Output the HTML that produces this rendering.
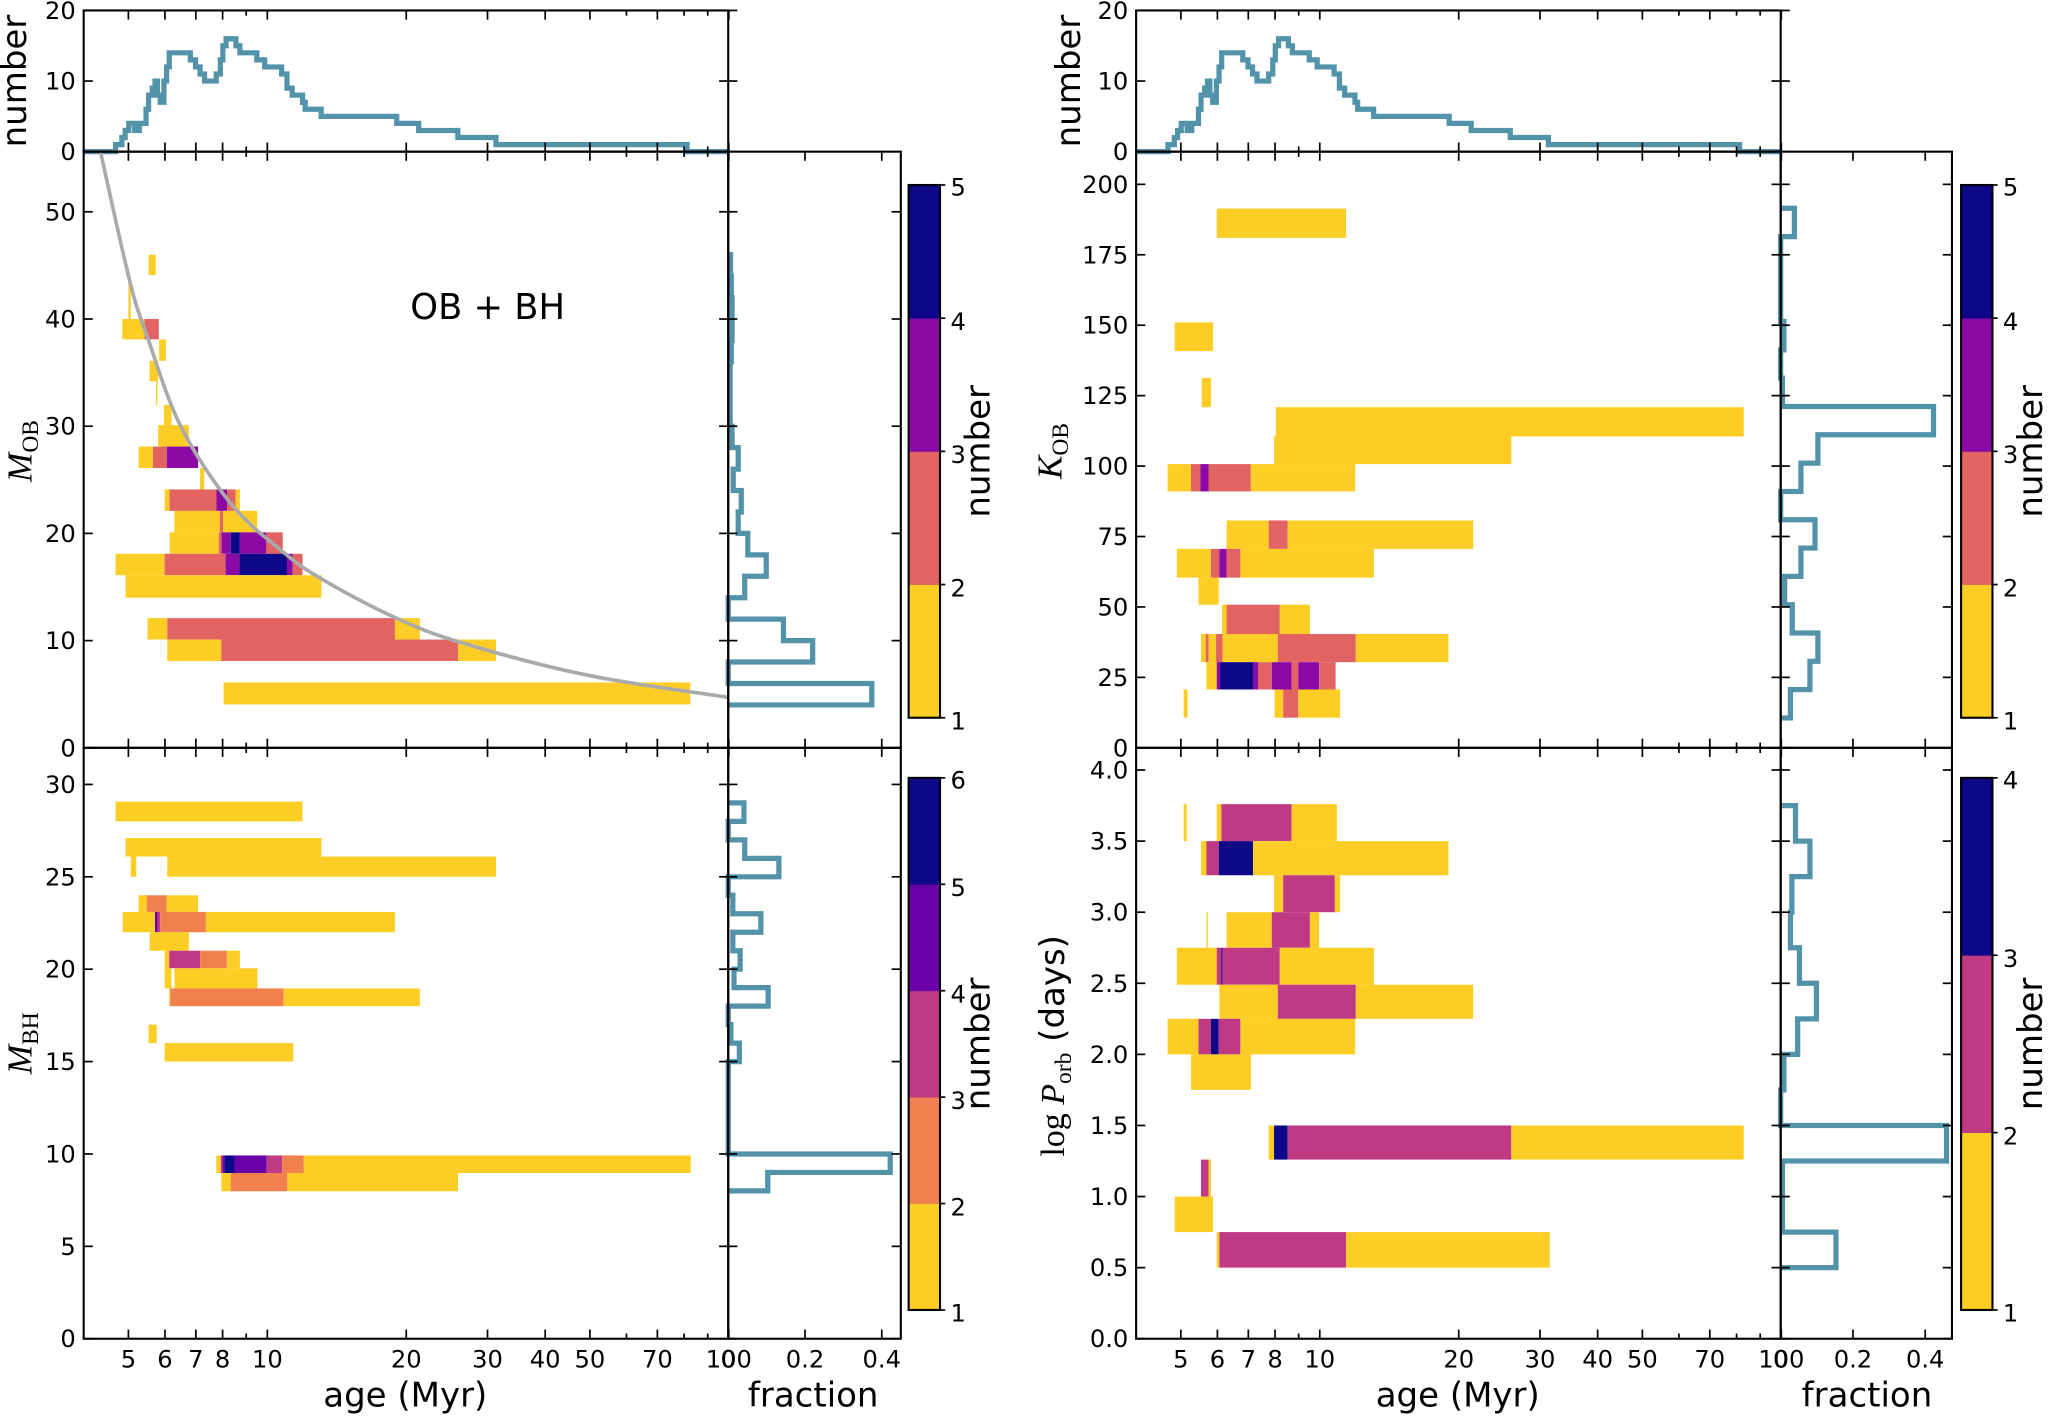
<!DOCTYPE html>
<html><head><meta charset="utf-8">
<style>
html,body{margin:0;padding:0;background:#fff;}
svg{display:block;}
text{font-family:"DejaVu Sans","Liberation Sans",sans-serif;fill:#000;}
.serif{font-family:"Liberation Serif","DejaVu Serif",serif;}
</style></head>
<body>
<svg id="chart" width="2050" height="1416" viewBox="0 0 1568 1083.1" preserveAspectRatio="none"></svg>
<script>
// ---------- DATA ----------
const ageHistEdges = [4,4.69,4.84,4.92,5.01,5.16,5.28,5.46,5.53,5.63,5.71,5.78,5.86,5.97,6.05,6.13,6.81,6.99,7.15,7.31,7.75,7.91,8.01,8.14,8.55,8.72,9.49,9.87,10.74,11.03,11.32,11.92,12.08,13.08,19.07,21.28,25.87,31.29,81.2,100];
const ageHistCounts = [0,1,2,3,4,3,4,6,8,9,10,8,7,10,12,14,13,12,11,10,11,13,15,16,15,14,13,12,11,9,8,7,6,5,4,3,2,1,0];
const ageTickLabels = [5,6,7,8,10,20,30,40,50,70,100];
const ageTickMinor = [9,60,80,90];

// M_OB panel cells: [ageStart, ageEnd, yLow, yHigh, count]
const obCells = [
[5.53,5.73,44.1,46,1],[5.0,5.06,40,44,1],
[4.85,5.42,38.1,40,1],[5.42,5.82,38.1,40,2],
[5.83,6.03,36.1,38.1,1],[5.56,5.80,34.2,36.1,1],[5.74,5.78,32,34.2,1],
[5.97,6.2,30.1,32,1],[5.80,6.76,28.1,30.1,1],
[5.26,5.65,26.1,28.1,1],[5.65,6.06,26.1,28.1,2],[6.06,7.08,26.1,28.1,3],
[7.15,7.3,24.1,26.1,1],
[5.99,6.14,22.1,24.1,1],[6.14,7.76,22.1,24.1,2],[7.76,8.18,22.1,24.1,3],[8.18,8.54,22.1,24.1,2],[8.54,8.72,22.1,24.1,1],
[6.29,7.89,20.1,22.1,1],[7.89,8.02,20.1,22.1,2],[8.02,9.51,20.1,22.1,1],
[6.14,7.85,18.1,20.1,1],[7.85,7.96,18.1,20.1,2],[7.96,8.33,18.1,20.1,3],[8.33,8.72,18.1,20.1,4],[8.72,9.95,18.1,20.1,3],[9.95,10.8,18.1,20.1,2],
[4.69,5.99,16.1,18.1,1],[5.99,8.12,16.1,18.1,2],[8.12,8.7,16.1,18.1,3],[8.7,11.03,16.1,18.1,4],[11.03,11.35,16.1,18.1,3],[11.35,11.92,16.1,18.1,2],
[4.93,13.1,14,16.1,1],
[5.5,6.07,10.1,12.1,1],[6.07,18.9,10.1,12.1,2],[18.9,21.4,10.1,12.1,1],
[6.07,7.95,8.1,10.1,1],[7.95,25.9,8.1,10.1,2],[25.9,31.3,8.1,10.1,1],
[8.04,82.5,4.05,6.1,1]
];
const obCurveAge = [4.35,5.03,5.49,6.49,8.33,10.69,13.05,18.8,26.6,49.7,100];
const obCurveMass = [55.6,43.6,38.4,30.0,22.8,18.45,15.8,12.2,9.75,6.75,4.7];
const obFracEdges = [4,6,8,10,12,14,16,18,20,22,24,26,28,30,32,34,36,38,40,42,44,46];
const obFrac = [0.374,0,0.22,0.144,0,0.043,0.099,0.051,0.026,0.034,0.013,0.026,0.01,0.005,0.005,0.005,0.008,0.01,0.01,0.008,0.006];
const obTicks = [0,10,20,30,40,50];

const bhCells = [
[4.69,11.92,28.0,29.07,1],[4.93,13.1,26.1,27.1,1],
[5.06,5.2,25.0,26.1,1],[6.07,31.3,25.0,26.1,1],
[5.26,5.48,23.1,24.0,1],[5.48,6.05,23.1,24.0,2],[6.05,7.08,23.1,24.0,1],
[4.86,5.71,22.0,23.1,1],[5.71,5.78,22.0,23.1,4],[5.78,5.86,22.0,23.1,3],[5.86,7.36,22.0,23.1,2],[7.36,18.9,22.0,23.1,1],
[5.56,6.76,21.0,22.0,1],
[5.99,6.13,20.05,21.0,1],[6.13,7.15,20.05,21.0,3],[7.15,8.17,20.05,21.0,2],[8.17,8.72,20.05,21.0,1],
[5.99,6.2,18.96,20.05,1],[6.29,9.52,18.96,20.05,1],
[6.13,6.16,18.0,18.96,1],[6.16,10.85,18.0,18.96,2],[10.85,21.4,18.0,18.96,1],
[5.53,5.76,16.0,17.0,1],[5.99,11.38,15.0,16.0,1],
[7.75,7.93,8.97,9.92,1],[7.93,8.0,8.97,9.92,3],[8.0,8.07,8.97,9.92,4],[8.07,8.49,8.97,9.92,5],[8.49,9.97,8.97,9.92,4],[9.97,10.77,8.97,9.92,3],[10.77,12.0,8.97,9.92,2],[12.0,82.7,8.97,9.92,1],
[7.95,8.33,7.98,8.97,1],[8.33,11.05,7.98,8.97,2],[11.05,25.9,7.98,8.97,1]
];
const bhFracEdges = [8,9,10,11,12,13,14,15,16,17,18,19,20,21,22,23,24,25,26,27,28,29];
const bhFrac = [0.103,0.422,0,0,0,0,0,0.029,0.007,0,0.104,0.015,0.031,0.012,0.085,0.012,0,0.132,0.043,0,0.041];
const bhTicks = [0,5,10,15,20,25,30];

const kCells = [
[5.98,11.4,181,191.4,1],[4.85,5.87,140.8,151,1],[5.55,5.81,120.9,131.3,1],
[8.03,82.9,110.5,120.9,1],[7.96,26,100.7,110.5,1],
[4.68,5.26,91,100.7,1],[5.26,5.51,91,100.7,2],[5.51,5.74,91,100.7,3],[5.74,7.09,91,100.7,2],[7.09,11.93,91,100.7,1],
[6.28,7.75,70.6,80.7,1],[7.75,8.52,70.6,80.7,2],[8.52,21.5,70.6,80.7,1],
[4.9,5.81,60.4,70.6,1],[5.81,6.06,60.4,70.6,2],[6.06,6.28,60.4,70.6,3],[6.28,6.73,60.4,70.6,2],[6.73,13.1,60.4,70.6,1],
[5.46,6.04,50.8,60.4,1],
[6.14,6.28,40.4,50.8,1],[6.28,8.19,40.4,50.8,2],[8.19,9.52,40.4,50.8,1],
[5.53,5.66,30.4,40.4,1],[5.66,5.74,30.4,40.4,2],[5.74,5.96,30.4,40.4,1],[5.96,6.16,30.4,40.4,2],[6.16,8.11,30.4,40.4,1],[8.11,11.97,30.4,40.4,2],[11.97,19,30.4,40.4,1],
[5.68,5.98,20.7,30.4,1],[5.98,6.08,20.7,30.4,3],[6.08,7.19,20.7,30.4,4],[7.19,7.36,20.7,30.4,3],[7.36,7.87,20.7,30.4,2],[7.87,8.69,20.7,30.4,3],[8.69,8.98,20.7,30.4,2],[8.98,9.97,20.7,30.4,3],[9.97,10.82,20.7,30.4,2],
[5.07,5.17,10.7,20.7,1],[7.98,8.33,10.7,20.7,1],[8.33,8.98,10.7,20.7,2],[8.98,11.07,10.7,20.7,1]
];
const kFracEdges = [10.6,20.65,30.7,40.75,50.8,60.85,70.9,80.95,91,101.05,111.1,121.15,131.2,141.25,151.3,161.35,171.4,181.45,191.5];
const kFrac = [0.027,0.081,0.103,0.032,0.011,0.056,0.095,0,0.056,0.103,0.423,0.005,0,0.009,0,0,0,0.038];
const kTicks = [0,25,50,75,100,125,150,175,200];

const pCells = [
[5.07,5.15,3.5,3.76,1],[5.98,6.12,3.5,3.76,1],[6.12,8.69,3.5,3.76,2],[8.69,10.89,3.5,3.76,1],
[5.53,5.68,3.26,3.5,1],[5.68,6.04,3.26,3.5,2],[6.04,7.17,3.26,3.5,3],[7.17,19,3.26,3.5,1],
[7.96,8.33,3.0,3.26,1],[8.33,10.78,3.0,3.26,2],[10.78,11.07,3.0,3.26,1],
[5.68,5.72,2.75,3.0,1],[6.28,7.87,2.75,3.0,1],[7.87,9.52,2.75,3.0,2],[9.52,9.97,2.75,3.0,1],
[4.9,5.98,2.49,2.75,1],[5.98,6.12,2.49,2.75,2],[6.12,6.16,2.49,2.75,3],[6.16,8.19,2.49,2.75,2],[8.19,13.1,2.49,2.75,1],
[6.06,8.11,2.25,2.49,1],[8.11,11.97,2.25,2.49,2],[11.97,21.5,2.25,2.49,1],
[4.68,5.46,2.0,2.25,1],[5.46,5.81,2.0,2.25,2],[5.81,6.04,2.0,2.25,3],[6.04,6.73,2.0,2.25,2],[6.73,11.93,2.0,2.25,1],
[5.26,7.09,1.75,2.0,1],
[7.75,7.96,1.26,1.5,1],[7.96,8.52,1.26,1.5,3],[8.52,26,1.26,1.5,2],[26,82.9,1.26,1.5,1],
[5.53,5.74,1.0,1.26,2],[5.74,5.81,1.0,1.26,1],
[4.85,5.87,0.75,1.0,1],
[5.98,6.06,0.5,0.75,1],[6.06,11.4,0.5,0.75,2],[11.4,31.5,0.5,0.75,1]
];
const pFracEdges = [0.5,0.75,1.0,1.25,1.5,1.75,2.0,2.25,2.5,2.75,3.0,3.25,3.5,3.75];
const pFrac = [0.153,0.005,0.005,0.459,0,0.009,0.047,0.099,0.052,0.027,0.031,0.081,0.041];
const pTicks = [0,0.5,1,1.5,2,2.5,3,3.5,4];

const fracTicks = [0.2,0.4];
const histTicks = [0,10,20];

const palTop = ['#fccd25','#e16462','#8b0aa5','#0d0887'];
const palBH = ['#fccd25','#f0804e','#bf3984','#6a00a8','#0d0887'];
const palP = ['#fccd25','#bf3984','#0d0887'];
const HIST = '#5393aa';

// ---------- HELPERS ----------
const NS = 'http://www.w3.org/2000/svg';
const svg = document.getElementById('chart');
function mk(tag, attrs, parent){
  const e = document.createElementNS(NS, tag);
  for (const k in attrs) e.setAttribute(k, attrs[k]);
  (parent || svg).appendChild(e);
  return e;
}
function ageX(a, x0){ return x0 + 353*(Math.log10(a) - Math.log10(4)); }
function linY(v, y0, ppu){ return y0 - v*ppu; }

function drawCells(cells, pal, x0, y0, ppu, name){
  const g = mk('g', {});
  
  
  cells.forEach(c => {
    const xa = ageX(c[0], x0), xb = ageX(c[1], x0);
    const ya = linY(c[3], y0, ppu), yb = linY(c[2], y0, ppu);
    const r = mk('rect', {x:xa, y:ya, width:Math.max(xb-xa,0.8), height:yb-ya, fill:pal[c[4]-1]}, g);
    
    
  });
}
function drawFracHist(edges, vals, fx0, fppu, y0, ppu, name){
  let d = 'M' + fx0 + ',' + linY(edges[0], y0, ppu);
  for (let i = 0; i < vals.length; i++){
    const x = fx0 + vals[i]*fppu;
    d += ' L' + x + ',' + linY(edges[i], y0, ppu) + ' L' + x + ',' + linY(edges[i+1], y0, ppu);
  }
  d += ' L' + fx0 + ',' + linY(edges[edges.length-1], y0, ppu);
  const p = mk('path', {d:d, fill:'none', stroke:HIST, 'stroke-width':4, 'stroke-linejoin':'miter'});
  
  
}
function drawAgeHist(x0, name){
  const y0 = 116, ppu = 5.4;
  let d = '';
  for (let i = 0; i < ageHistCounts.length; i++){
    const xa = ageX(ageHistEdges[i], x0), xb = ageX(ageHistEdges[i+1], x0), y = linY(ageHistCounts[i], y0, ppu);
    d += (i === 0 ? 'M' : ' L') + xa + ',' + y + ' L' + xb + ',' + y;
  }
  const p = mk('path', {d:d, fill:'none', stroke:HIST, 'stroke-width':4});
  
  
}
function txt(s, x, y, size, anchor, name, extra){
  const t = mk('text', Object.assign({x:x, y:y, 'font-size':size, 'text-anchor':anchor||'middle'}, extra||{}));
  t.textContent = s;
  
  
  return t;
}
function line(x1,y1,x2,y2,w){ return mk('line',{x1:x1,y1:y1,x2:x2,y2:y2,stroke:'#000','stroke-width':w||1.3}); }
function box(x1,y1,x2,y2,name){
  const r = mk('rect',{x:x1,y:y1,width:x2-x1,height:y2-y1,fill:'none',stroke:'#000','stroke-width':1.6});
  
  
}
function ageTicks(x0, yTop, yBot){
  for (let v = 5; v <= 100; v++){
    if (!(v<10 || v%10===0)) continue;
    const x = ageX(v, x0);
    const L = ageTickMinor.indexOf(v) >= 0 ? 4 : 7;
    line(x, yBot, x, yBot-L); line(x, yTop, x, yTop+L);
  }
}
function yTicks(ticks, y0, ppu, xl, xr, fxr, labelX, fmt, name){
  ticks.forEach(v => {
    const y = linY(v, y0, ppu);
    line(xl, y, xl+7, y); line(xr, y, xr-7, y); line(xr, y, xr+7, y);
    if (fxr) line(fxr, y, fxr-7, y);
    txt(fmt ? v.toFixed(1) : String(v), labelX, y+6.5, 18.5, 'end', name + '-tick-label');
  });
}
function fracTickMarks(fx0, fppu, ys){
  fracTicks.forEach(v => {
    const x = fx0 + v*fppu;
    ys.forEach(p => line(x, p[0], x, p[0]+p[1]*7));
  });
}
function colorbar(x, yTop, yBot, pal, n0, name){
  const h = (yBot - yTop)/pal.length;
  pal.forEach((c, i) => {
    const r = mk('rect', {x:x, y:yBot-(i+1)*h, width:24, height:h+0.3, fill:c});
    
    
  });
  box(x, yTop, x+24, yBot, name + '-outline');
  for (let i = 0; i <= pal.length; i++){
    const y = yBot - i*h;
    line(x+24, y, x+28, y);
    txt(String(n0+i), x+32, y+(i===pal.length?8:9), 18.5, 'start', name + '-tick-label');
  }
  txt('number', 0, 0, 26, 'middle', name + '-title', {transform:'translate(' + (x+62) + ',' + ((yTop+yBot)/2) + ') rotate(-90)'});
}

// ---------- LEFT COLUMN ----------
const LX0 = 64, LX1 = 557, LF1 = 689, LFPPU = 293.6;
drawAgeHist(LX0, 'left');
drawCells(obCells, palTop, LX0, 572, 8.2, 'mob');
(function(){
  const pts = obCurveAge.map((a, i) => [ageX(a, LX0), linY(obCurveMass[i], 572, 8.2)]);
  let d = 'M' + pts[0][0] + ',' + pts[0][1];
  for (let i = 0; i < pts.length - 1; i++){
    const p0 = pts[Math.max(i-1,0)], p1 = pts[i], p2 = pts[i+1], p3 = pts[Math.min(i+2, pts.length-1)];
    const c1 = [p1[0] + (p2[0]-p0[0])/6, p1[1] + (p2[1]-p0[1])/6];
    const c2 = [p2[0] - (p3[0]-p1[0])/6, p2[1] - (p3[1]-p1[1])/6];
    d += ' C' + c1[0] + ',' + c1[1] + ' ' + c2[0] + ',' + c2[1] + ' ' + p2[0] + ',' + p2[1];
  }
  const p = mk('path', {d:d, fill:'none', stroke:'#aaaaaa', 'stroke-width':2.8, 'stroke-linejoin':'round'});
  
  
})();
drawCells(bhCells, palBH, LX0, 1024, 14.133, 'mbh');
drawFracHist(obFracEdges, obFrac, LX1, LFPPU, 572, 8.2, 'mob');
drawFracHist(bhFracEdges, bhFrac, LX1, LFPPU, 1024, 14.133, 'mbh');

box(LX0, 8, LX1, 116, 'left-top-histogram-frame');
box(LX0, 116, LX1, 572, 'mob-panel-frame');
box(LX0, 572, LX1, 1024, 'mbh-panel-frame');
box(LX1, 116, LF1, 572, 'mob-fraction-frame');
box(LX1, 572, LF1, 1024, 'mbh-fraction-frame');
ageTicks(LX0, 8, 116); ageTicks(LX0, 116, 572); ageTicks(LX0, 572, 1024);
yTicks(histTicks, 116, 5.4, LX0, LX1, null, 58, false, 'left-hist');
yTicks(obTicks, 572, 8.2, LX0, LX1, LF1, 58, false, 'mob');
yTicks(bhTicks, 1024, 14.133, LX0, LX1, LF1, 58, false, 'mbh');
fracTickMarks(LX1, LFPPU, [[116,1],[572,-1],[572,1],[1024,-1]]);

// ---------- RIGHT COLUMN ----------
const RX0 = 869, RX1 = 1362, RF1 = 1493, RFPPU = 276.4;
drawAgeHist(RX0, 'right');
drawCells(kCells, palTop, RX0, 572, 2.155, 'kob');
drawCells(pCells, palP, RX0, 1024, 108.75, 'logp');
drawFracHist(kFracEdges, kFrac, RX1, RFPPU, 572, 2.155, 'kob');
drawFracHist(pFracEdges, pFrac, RX1, RFPPU, 1024, 108.75, 'logp');

box(RX0, 8, RX1, 116, 'right-top-histogram-frame');
box(RX0, 116, RX1, 572, 'kob-panel-frame');
box(RX0, 572, RX1, 1024, 'logp-panel-frame');
box(RX1, 116, RF1, 572, 'kob-fraction-frame');
box(RX1, 572, RF1, 1024, 'logp-fraction-frame');
ageTicks(RX0, 8, 116); ageTicks(RX0, 116, 572); ageTicks(RX0, 572, 1024);
yTicks(histTicks, 116, 5.4, RX0, RX1, null, 863, false, 'right-hist');
yTicks(kTicks, 572, 2.155, RX0, RX1, RF1, 863, false, 'kob');
yTicks(pTicks, 1024, 108.75, RX0, RX1, RF1, 863, true, 'logp');
fracTickMarks(RX1, RFPPU, [[116,1],[572,-1],[572,1],[1024,-1]]);

// ---------- X TICK LABELS ----------
[LX0, RX0].forEach(x0 => {
  ageTickLabels.forEach(v => txt(String(v), ageX(v, x0), 1046, 18.5, 'middle', 'age-tick-label'));
});
[[LX1, LFPPU],[RX1, RFPPU]].forEach(p => {
  txt('0', p[0], 1046, 18.5, 'middle', 'fraction-tick-label');
  fracTicks.forEach(v => txt(v.toFixed(1), p[0] + v*p[1], 1046, 18.5, 'middle', 'fraction-tick-label'));
});

// ---------- COLORBARS ----------
colorbar(695, 141.5, 549, palTop, 1, 'mob-colorbar');
colorbar(695, 595, 1002, palBH, 1, 'mbh-colorbar');
colorbar(1500, 141.5, 549, palTop, 1, 'kob-colorbar');
colorbar(1500, 595, 1002, palP, 1, 'logp-colorbar');
</script>
<script>
const S = document.getElementById('chart');
S.insertAdjacentHTML('beforeend', `
<text x="310" y="1076" font-size="26" text-anchor="middle">age (Myr)</text>
<text x="622" y="1076" font-size="26" text-anchor="middle">fraction</text>
<text x="1115" y="1076" font-size="26" text-anchor="middle">age (Myr)</text>
<text x="1428" y="1076" font-size="26" text-anchor="middle">fraction</text>
<text x="373" y="244" font-size="27" text-anchor="middle">OB + BH</text>
<text transform="translate(20,62) rotate(-90)" font-size="26" text-anchor="middle">number</text>
<text transform="translate(826,62) rotate(-90)" font-size="26" text-anchor="middle">number</text>
<text transform="translate(24,345) rotate(-90)" font-size="27" text-anchor="middle"><tspan class="serif" font-style="italic">M</tspan><tspan class="serif" font-size="18" dy="5">OB</tspan></text>
<text transform="translate(24,798) rotate(-90)" font-size="27" text-anchor="middle"><tspan class="serif" font-style="italic">M</tspan><tspan class="serif" font-size="18" dy="5">BH</tspan></text>
<text transform="translate(812,345) rotate(-90)" font-size="27" text-anchor="middle"><tspan class="serif" font-style="italic">K</tspan><tspan class="serif" font-size="18" dy="5">OB</tspan></text>
<text transform="translate(814,800) rotate(-90)" font-size="26" text-anchor="middle"><tspan class="serif">log </tspan><tspan class="serif" font-style="italic">P</tspan><tspan class="serif" font-size="18" dy="5">orb</tspan><tspan dy="-5"> (days)</tspan></text>
`);
</script>
</body></html>
